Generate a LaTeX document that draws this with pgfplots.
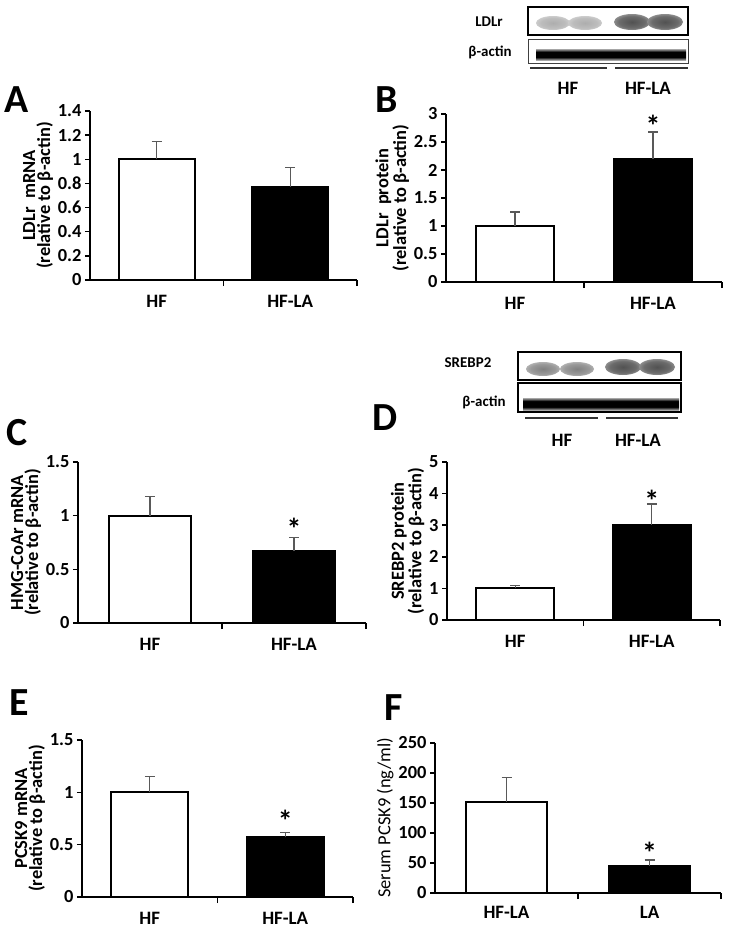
\documentclass[border=0pt]{standalone}
\usepackage{fontspec}
\setmainfont{Carlito}
\usepackage{pgfplots}
\pgfplotsset{compat=1.18}

\pgfdeclareradialshading{bandlight}{\pgfpoint{0bp}{0bp}}{color(0bp)=(black!32); color(18bp)=(black!26); color(50bp)=(white)}
\pgfdeclareradialshading{banddark}{\pgfpoint{0bp}{0bp}}{color(0bp)=(black!68); color(18bp)=(black!58); color(50bp)=(white)}
\pgfdeclareradialshading{bandmid}{\pgfpoint{0bp}{0bp}}{color(0bp)=(black!50); color(18bp)=(black!40); color(50bp)=(white)}
\pgfdeclareverticalshading{actin}{100bp}{color(0bp)=(white); color(18bp)=(white); color(38bp)=(black); color(62bp)=(black); color(82bp)=(white); color(100bp)=(white)}

\newcommand{\tfont}{\bfseries\fontsize{18.5}{18}\selectfont}
\newcommand{\xfont}{\bfseries\fontsize{19}{19}\selectfont}
\newcommand{\lfont}{\bfseries\fontsize{18.5}{15}\selectfont}
\newcommand{\sfont}{\bfseries\fontsize{30}{30}\selectfont}

\tikzset{sigstar/.style={font=\sfont, yshift=-5bp}}

\pgfplotsset{
  panel/.style={
    scale only axis,
    anchor=south west,
    clip=false,
    axis lines=left,
    axis line style={-, line width=1.6pt, black},
    xmin=-0.5, xmax=1.5, ymin=0,
    xtick={0,1},
    xticklabels={HF,HF-LA},
    minor xtick={0.5,1.5},
    major x tick style={draw=none},
    minor x tick style={line width=1.5pt, black},
    y tick style={line width=1.5pt, black},
    minor tick length=6bp,
    major tick length=5bp,
    tick align=outside,
    /pgf/number format/assume math mode=true,
    yticklabel style={font=\tfont},
    xticklabel style={font=\xfont, yshift=-7bp},
    ylabel style={font=\lfont, align=center, yshift=-2bp},
  },
  whitebar/.style={ybar, bar width=0.57, bar shift=0pt, fill=white, draw=black, line width=2pt,
    error bars/.cd, y dir=plus, y explicit,
    error bar style={line width=1.2pt, black!65},
    error mark options={rotate=90, mark size=5bp, line width=1.2pt, black!65}},
  blackbar/.style={ybar, bar width=0.57, bar shift=0pt, fill=black, draw=black, line width=2pt,
    error bars/.cd, y dir=plus, y explicit,
    error bar style={line width=1.2pt, black!65},
    error mark options={rotate=90, mark size=5bp, line width=1.2pt, black!65}},
}

\begin{document}
\begin{tikzpicture}
\path[use as bounding box] (0bp,0bp) rectangle (729bp,-934bp);

% ---------- A ----------
\begin{axis}[panel, at={(90bp,-280bp)}, width=267bp, height=169bp,
  ymax=1.4, ytick={0,0.2,0.4,0.6,0.8,1,1.2,1.4},
  ylabel={LDLr\ \ mRNA\\(relative to β-actin)}]
\addplot[whitebar] coordinates {(0,1.0) +- (0,0.15)};
\addplot[blackbar] coordinates {(1,0.77) +- (0,0.16)};
\end{axis}

% ---------- B ----------
\begin{axis}[panel, at={(446bp,-282bp)}, width=276bp, height=168bp,
  ymax=3, ytick={0,0.5,1,1.5,2,2.5,3},
  ylabel={LDLr\ \ protein\\(relative to β-actin)}]
\addplot[whitebar] coordinates {(0,1.0) +- (0,0.25)};
\addplot[blackbar] coordinates {(1,2.2) +- (0,0.48)};
\node[sigstar] at (axis cs:1,2.88) {*};
\end{axis}

% ---------- C ----------
\begin{axis}[panel, at={(78bp,-623bp)}, width=288bp, height=161bp,
  ymax=1.5, ytick={0,0.5,1,1.5},
  ylabel={HMG-CoAr mRNA\\(relative to β-actin)}]
\addplot[whitebar] coordinates {(0,1.0) +- (0,0.18)};
\addplot[blackbar] coordinates {(1,0.67) +- (0,0.13)};
\node[sigstar] at (axis cs:1,0.92) {*};
\end{axis}

% ---------- D ----------
\begin{axis}[panel, at={(447bp,-620bp)}, width=273bp, height=158bp,
  ymax=5, ytick={0,1,2,3,4,5},
  ylabel={SREBP2 protein\\(relative to β-actin)}]
\addplot[whitebar] coordinates {(0,1.0) +- (0,0.08)};
\addplot[blackbar] coordinates {(1,3.0) +- (0,0.67)};
\node[sigstar] at (axis cs:1,3.93) {*};
\end{axis}

% ---------- E ----------
\begin{axis}[panel, at={(82bp,-897bp)}, width=271bp, height=157bp,
  ymax=1.5, ytick={0,0.5,1,1.5},
  ylabel={PCSK9 mRNA\\(relative to β-actin)}]
\addplot[whitebar] coordinates {(0,1.0) +- (0,0.15)};
\addplot[blackbar] coordinates {(1,0.57) +- (0,0.05)};
\node[sigstar] at (axis cs:1,0.78) {*};
\end{axis}

% ---------- F ----------
\begin{axis}[panel, at={(435bp,-893bp)}, width=286bp, height=150bp,
  ymax=250, ytick={0,50,100,150,200,250},
  xticklabels={HF-LA,LA},
  xticklabel style={yshift=2bp},
  ylabel style={font=\fontsize{18.5}{18}\selectfont},
  ylabel={Serum PCSK9 (ng/ml)}]
\addplot[whitebar] coordinates {(0,152) +- (0,41)};
\addplot[blackbar] coordinates {(1,45) +- (0,10)};
\node[sigstar] at (axis cs:1,76) {*};
\end{axis}

% ---------- panel letters, blots ----------
\begin{scope}[x=1bp, y=-1bp]
\foreach \L/\px/\py in {A/17/100, B/387/100, C/17/433, D/385/418, E/19/703, F/394/708}
  \node[font=\bfseries\fontsize{40}{40}\selectfont] at (\px,\py) {\L};

% LDLr blot
\node[font=\bfseries\fontsize{15}{15}\selectfont] at (489,22) {LDLr};
\node[font=\bfseries\fontsize{15}{15}\selectfont] at (490,52) {β-actin};
\foreach \cx in {553,585} \shade[shading=bandlight] (\cx,23) ellipse (17 and 7);
\foreach \cx in {632,665} \shade[shading=banddark] (\cx,22) ellipse (18 and 8);
\shade[shading=actin] (536,49) rectangle (686,60);
\draw[line width=1.8pt] (528,7) rectangle (688,35);
\draw[line width=0.9pt, black!75] (528,39) rectangle (688,63);
\draw[line width=1.6pt, black!80] (530,68) -- (607,68);
\draw[line width=1.6pt, black!80] (615,68) -- (688,68);
\node[font=\xfont] at (568,88) {HF};
\node[font=\xfont] at (648,88) {HF-LA};

% SREBP2 blot
\node[font=\bfseries\fontsize{15}{15}\selectfont] at (468,363) {SREBP2};
\node[font=\bfseries\fontsize{15}{15}\selectfont] at (484,402) {β-actin};
\foreach \cx in {543,577} \shade[shading=bandmid] (\cx,369) ellipse (17 and 7);
\foreach \cx in {623,657} \shade[shading=banddark] (\cx,367) ellipse (18 and 8);
\shade[shading=actin] (523,398) rectangle (679,410);
\draw[line width=1.6pt] (518,352) rectangle (681,380);
\draw[line width=1.6pt] (518,383) rectangle (681,412);
\draw[line width=1.6pt, black!80] (525,418) -- (598,418);
\draw[line width=1.6pt, black!80] (606,418) -- (678,418);
\node[font=\xfont] at (562,440) {HF};
\node[font=\xfont] at (638,440) {HF-LA};
\end{scope}
\end{tikzpicture}
\end{document}
